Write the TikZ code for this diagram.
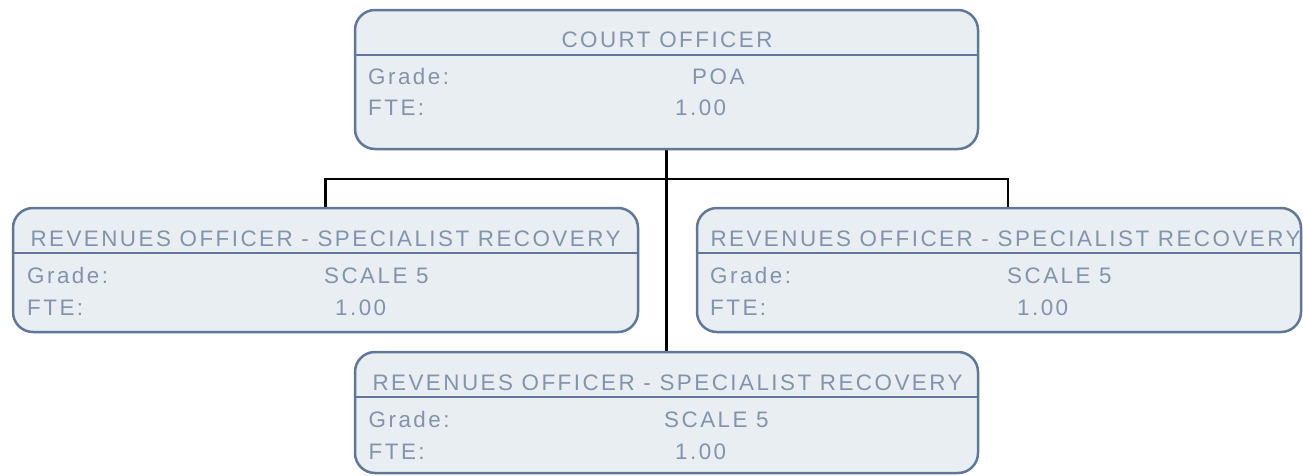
\documentclass[tikz,border=0pt]{standalone}
\usepackage{fontspec}
\setmainfont{Liberation Sans}
\newfontfamily\boxfont[LetterSpace=11]{Liberation Sans}
\usetikzlibrary{backgrounds}
\definecolor{boxline}{HTML}{5F7899}
\definecolor{boxfill}{HTML}{E9EEF2}
\definecolor{txt}{HTML}{8194AD}
\tikzset{
  box/.style={draw=boxline, fill=boxfill, line width=2.5pt, rounded corners=20pt, inner sep=0pt, outer sep=0pt},
  divider/.style={draw=boxline, line width=2.5pt},
  lbl/.style={font=\boxfont\fontsize{22.4}{26}\selectfont, text=txt, inner sep=0pt, anchor=base west},
  ttl/.style={lbl, anchor=base},
  conn/.style={draw=black, line width=2.5pt}
}
\begin{document}
\begin{tikzpicture}[x=1pt,y=-1pt]
\useasboundingbox (0,0) rectangle (1303,475);
% boxes
\node[box, minimum width=623pt, minimum height=139pt] (top) at (666.5,79.5) {};
\node[box, minimum width=625pt, minimum height=124pt] (left) at (325.5,270) {};
\node[box, minimum width=604pt, minimum height=124pt] (right) at (999,270) {};
\node[box, minimum width=623pt, minimum height=121pt] (bottom) at (666.5,412.5) {};
% dividers
\foreach \b in {top,left,right,bottom}{
  \draw[divider] ([yshift=-45pt]\b.north west) -- ([yshift=-45pt]\b.north east);
}
% connectors
\coordinate (hbar) at (667,179);
\coordinate (rdrop) at (1008,208);
\begin{scope}[on background layer]
\draw[conn] (top.south) -- (bottom.north);
\draw[conn] (left.north) |- (hbar);
\draw[conn] (hbar) -| (rdrop);
\end{scope}
% top texts
\node[ttl] (t0) at (667,47) {COURT OFFICER};
\node[lbl] (g0) at (368,84) {Grade:};
\node[lbl] (gv0) at (692,84) {POA};
\node[lbl] (f0) at (368,115) {FTE:};
\node[lbl] (fv0) at (675,115) {1.00};
% left texts
\node[ttl] (t1) at (325.5,246) {REVENUES OFFICER - SPECIALIST RECOVERY};
\node[lbl] (g1) at (27,283) {Grade:};
\node[lbl] (gv1) at (324,283) {SCALE 5};
\node[lbl] (f1) at (27,315) {FTE:};
\node[lbl] (fv1) at (335,315) {1.00};
% right texts
\node[ttl] (t2) at (1005.5,246) {REVENUES OFFICER - SPECIALIST RECOVERY};
\node[lbl] (g2) at (710,283) {Grade:};
\node[lbl] (gv2) at (1007,283) {SCALE 5};
\node[lbl] (f2) at (710,315) {FTE:};
\node[lbl] (fv2) at (1017,315) {1.00};
% bottom texts
\node[ttl] (t3) at (667.5,390) {REVENUES OFFICER - SPECIALIST RECOVERY};
\node[lbl] (g3) at (368.5,427) {Grade:};
\node[lbl] (gv3) at (664,427) {SCALE 5};
\node[lbl] (f3) at (368.5,459) {FTE:};
\node[lbl] (fv3) at (675,459) {1.00};
\end{tikzpicture}
\end{document}
